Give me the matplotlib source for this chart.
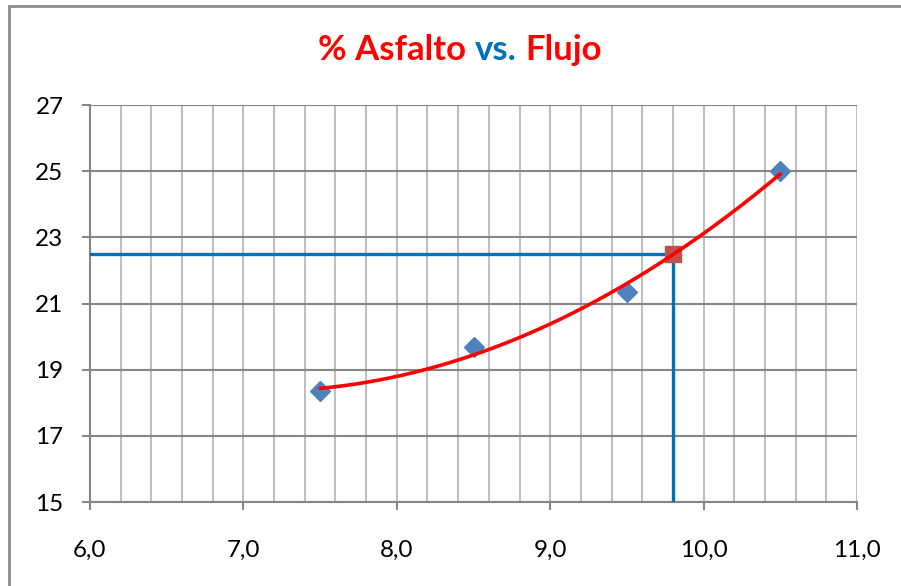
import numpy as np
import matplotlib
matplotlib.use('Agg')
import matplotlib.pyplot as plt
from matplotlib.offsetbox import TextArea, HPacker, AnchoredOffsetbox
from matplotlib.patches import Rectangle
from matplotlib.ticker import MultipleLocator, FuncFormatter

# ensayo Marshall: % de asfalto contra flujo
asfalto = [7.5, 8.5, 9.5, 10.5]
flujo = [18.35, 19.7, 21.35, 25.0]
asfalto_opt = 9.8
flujo_opt = 22.5
yticks = [15, 17, 19, 21, 23, 25, 27]

plt.rcParams['font.family'] = ['Lato', 'DejaVu Sans']

fig = plt.figure(figsize=(9.01, 5.86), dpi=100)
ax = fig.add_axes([90/901, 1 - 502/586, (857 - 90)/901, (502 - 105)/586])

# curva de tendencia polinomica de grado 2
coef = np.polyfit(asfalto, flujo, 2)
xs = np.linspace(min(asfalto), max(asfalto), 200)

ax.plot([6.0, asfalto_opt], [flujo_opt, flujo_opt], color='#0070C0', lw=2.4, zorder=3)
ax.plot([asfalto_opt, asfalto_opt], [15, flujo_opt], color='#0070C0', lw=2.4, zorder=3)
ax.plot(asfalto, flujo, 'D', color='#4F81BD', ms=10.5, zorder=4)
ax.plot([asfalto_opt], [flujo_opt], 's', color='#C0504D', ms=11, zorder=4)
ax.plot(xs, np.polyval(coef, xs), color='#FF0000', lw=2.6, zorder=5,
        solid_capstyle='round')

ax.set_xlim(6.0, 11.0)
ax.set_ylim(15, 27)
ax.xaxis.set_major_locator(MultipleLocator(1.0))
ax.xaxis.set_minor_locator(MultipleLocator(0.2))
ax.set_yticks(yticks)
ax.xaxis.set_major_formatter(FuncFormatter(lambda v, p: f'{v:.1f}'.replace('.', ',')))
ax.yaxis.set_major_formatter(FuncFormatter(lambda v, p: f'{v:.0f}'))

ax.xaxis.grid(True, which='both', color='#BFBFBF', lw=1.5, zorder=1)
ax.yaxis.grid(True, which='major', color='#868686', lw=1.5, zorder=1)
ax.set_axisbelow(True)

for s in ['top', 'right']:
    ax.spines[s].set_visible(False)
for s in ['left', 'bottom']:
    ax.spines[s].set_color('#868686')
    ax.spines[s].set_linewidth(1.5)

ax.tick_params(axis='y', length=6, width=1.5, color='#868686', pad=13, labelsize=17.5)
ax.tick_params(axis='x', which='major', length=6, width=1.5, color='#868686', pad=21, labelsize=17.5)
ax.tick_params(axis='x', which='minor', length=0)

# titulo en dos colores
partes = [TextArea('% Asfalto', textprops=dict(color='#FF0000', fontsize=25, fontweight='bold')),
          TextArea('vs.', textprops=dict(color='#0070C0', fontsize=25, fontweight='bold')),
          TextArea('Flujo', textprops=dict(color='#FF0000', fontsize=25, fontweight='bold'))]
titulo = HPacker(children=partes, align='baseline', pad=0, sep=6)
caja = AnchoredOffsetbox(loc='center', child=titulo, pad=0, borderpad=0, frameon=False,
                         bbox_to_anchor=(460/901, 1 - 50/586), bbox_transform=fig.transFigure)
fig.add_artist(caja)

# marco del area del grafico
fig.add_artist(Rectangle((9/901, -0.1), 1.2, 1.1 - 6/586, transform=fig.transFigure,
                         fill=False, edgecolor='#8C8C8C', lw=2, clip_on=False))

fig.savefig('out.png', dpi=100)
